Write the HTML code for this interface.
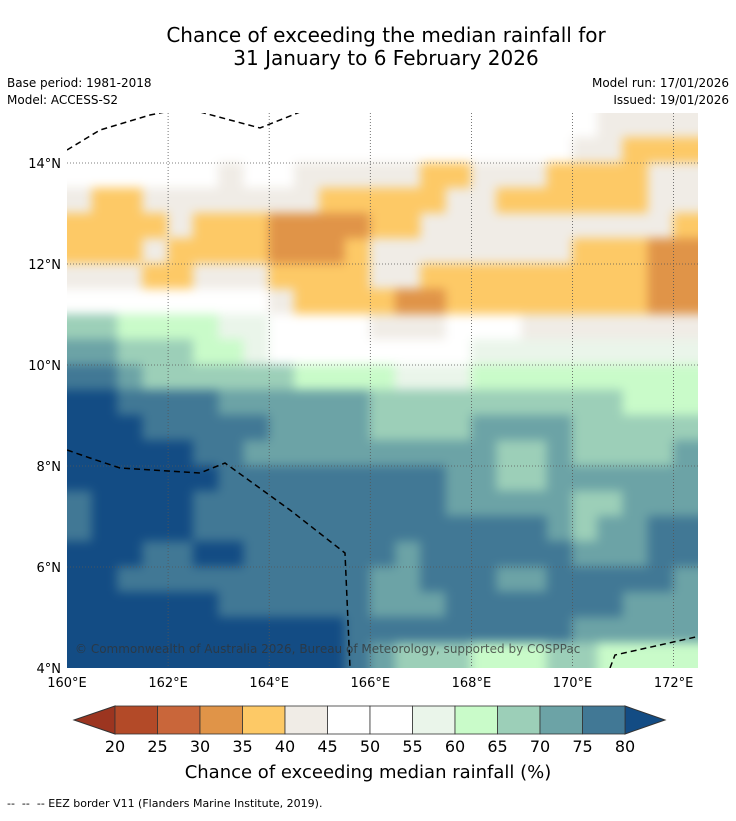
<!DOCTYPE html>
<html><head><meta charset="utf-8">
<style>
body{margin:0;background:#fff;font-family:"Liberation Sans",sans-serif;}
svg text{font-family:"DejaVu Sans","Liberation Sans",sans-serif;}
#cells{filter:blur(5px);}
</style></head>
<body>
<svg id="chart" width="736" height="816" viewBox="0 0 736 816" xmlns="http://www.w3.org/2000/svg">
<defs>
<clipPath id="mapclip"><rect x="67" y="113" width="631" height="555"/></clipPath>
</defs>
<rect width="736" height="816" fill="#fff"/>
<text x="386" y="42" font-size="20" text-anchor="middle" fill="#000">Chance of exceeding the median rainfall for</text>
<text x="386" y="65" font-size="20" text-anchor="middle" fill="#000">31 January to 6 February 2026</text>
<text x="7" y="87" font-size="12">Base period: 1981-2018</text>
<text x="7" y="104" font-size="12">Model: ACCESS-S2</text>
<text x="729" y="87" font-size="12" text-anchor="end">Model run: 17/01/2026</text>
<text x="729" y="104" font-size="12" text-anchor="end">Issued: 19/01/2026</text>
<g id="map" clip-path="url(#mapclip)">
<rect x="67" y="113" width="631" height="555" fill="#fff"/>
<g id="cells"></g>
<g id="grid"></g>
<g id="eez" fill="none" stroke="#000" stroke-width="1.5" stroke-dasharray="6,4"></g>
<text x="75" y="653" font-size="12" fill="#333" fill-opacity="0.75">© Commonwealth of Australia 2026, Bureau of Meteorology, supported by COSPPac</text>
</g>
<g id="axes"></g>
<g id="colorbar"></g>
<text x="368" y="778" font-size="18" text-anchor="middle">Chance of exceeding median rainfall (%)</text>
<text x="7" y="807" font-size="11" xml:space="preserve">--  --  -- EEZ border V11 (Flanders Marine Institute, 2019).</text>
</svg>
<script>
const lonStart = 160, lonStep = 0.5, latTop = 15, latStep = 0.5;
const rows = [
"WWWWWWWWWWWWWWWWWWWWWBBBB",
"WWWWWWWWWWWWWWWWWWWWBBOOO",
"WWWWWWBWWBBBBBOOBBBOOOOBB",
"BOOBBBBBBBOOOOOBBOOOOOOBB",
"OOOOBOOODDDDOOBBBBBBBBBBO",
"OOOBOOOODDDOBBBBBBBBOOODD",
"BBBOOBBBOOOOBBOOOOOOOOODD",
"WWWWWWWWBOOOODDOOOOOOOODD",
"MMGGGGPPWWWWBBBWWWBBBBBBB",
"TTMMMGGPWWWWWWWWPPPPPPPPP",
"UUTMMMMMMGGGGPPPGGGGGGGGG",
"NNUUUUTTTTTTMMMMMMMMMMGGG",
"NNNUUUUUTTTTMMMMTTTTMMMMM",
"NNNNNUUTTTTTTTTTTMMTMMMMT",
"NNNNNNUUUUUUUUUTTMMTTTTTT",
"UNNNNUUUUUUUUUUTTTTTMMTTT",
"UNNNNUUUUUUUUUUUUUUTMTTUU",
"NNNUUNNUUUUUUTUUUUUUTTTUU",
"NNUUUUUUUUUUTTUUUTTUUUUUT",
"NNNNNNUUUUUUTTTUUUUUUUTTT",
"NNNNNNNNNNNUUUUUUUUUTTTTT",
"NNNNNNNNNNNUTMMMGGGMMGGGG"
];
const levelCodes = ["D","O","B","W","P","G","M","T","U","N"];
const levelColors = ["#e09448","#fdc966","#f0ece6","#ffffff","#eaf5ea","#c9fbc9","#9ccfb8","#6ca3a6","#417895","#134c84"];
const cbLabels = ["20","25","30","35","40","45","50","55","60","65","70","75","80"];
const cbColors = ["#b34a28","#c9663a","#e09448","#fdc966","#f0ece6","#ffffff","#ffffff","#eaf5ea","#c9fbc9","#9ccfb8","#6ca3a6","#417895"];
const xTicks = [160,162,164,166,168,170,172];
const yTicks = [4,6,8,10,12,14];

const NS="http://www.w3.org/2000/svg";
const X = lon => 67 + (lon-160)*50.55;
const Y = lat => 668 - (lat-4)*50.5;
function mk(tag, attrs, parent){const e=document.createElementNS(NS,tag);for(const k in attrs)e.setAttribute(k,attrs[k]);parent.appendChild(e);return e;}

const cells=document.getElementById('cells');
const nR=rows.length;
rows.forEach((row,r)=>{
  const nC=row.length;
  for(let c=0;c<nC;c++){
    const lon0=lonStart+c*lonStep, lat0=latTop-r*latStep;
    let x0=X(lon0), x1=X(lon0+lonStep), y0=Y(lat0), y1=Y(lat0-latStep);
    if(c===0)x0-=20; if(c===nC-1)x1+=20; if(r===0)y0-=20; if(r===nR-1)y1+=20;
    const col=levelColors[levelCodes.indexOf(row[c])];
    const e=mk('rect',{x:x0-0.5,y:y0-0.5,width:x1-x0+1,height:y1-y0+1,fill:col},cells);
    
    
  }
});

const grid=document.getElementById('grid');
xTicks.slice(1).forEach(l=>{const e=mk('line',{x1:X(l),x2:X(l),y1:113,y2:668,stroke:'#555','stroke-width':0.8,'stroke-dasharray':'1,2'},grid);
  });
yTicks.slice(1).forEach(l=>{const e=mk('line',{x1:67,x2:698,y1:Y(l),y2:Y(l),stroke:'#555','stroke-width':0.8,'stroke-dasharray':'1,2'},grid);
  });

const eez=document.getElementById('eez');
["M67,150 L100,130 L150,115 L165,112","M200,112 L230,120 L260,128 L300,112","M67,450 L90,458 L120,468 L200,473 L225,463 L290,510 L345,553 L350,668","M610,668 L615,655 L660,645 L700,636"].forEach(d=>{
  const e=mk('path',{d:d},eez);});

const axes=document.getElementById('axes');
xTicks.forEach(l=>{const t=mk('text',{x:X(l),y:687,'font-size':13,'text-anchor':'middle'},axes);t.textContent=l+'°E';
  });
yTicks.forEach(l=>{const t=mk('text',{x:61,y:Y(l)+5,'font-size':13,'text-anchor':'end'},axes);t.textContent=l+'°N';
  });

const cb=document.getElementById('colorbar');
const cbX0=115, cbX1=625, cbY0=706, cbY1=734, bw=(cbX1-cbX0)/cbColors.length;
let e=mk('polygon',{points:`74,720 ${cbX0},${cbY0} ${cbX0},${cbY1}`,fill:'#9c3520',stroke:'#333','stroke-width':1},cb);

e=mk('polygon',{points:`665,720 ${cbX1},${cbY0} ${cbX1},${cbY1}`,fill:'#134c84',stroke:'#333','stroke-width':1},cb);

cbColors.forEach((col,i)=>{const r=mk('rect',{x:cbX0+i*bw,y:cbY0,width:bw,height:cbY1-cbY0,fill:col,stroke:'#333','stroke-width':0.8},cb);
  });
cbLabels.forEach((l,i)=>{const t=mk('text',{x:cbX0+i*bw,y:752,'font-size':16,'text-anchor':'middle'},cb);t.textContent=l;
  });
</script>
</body></html>
